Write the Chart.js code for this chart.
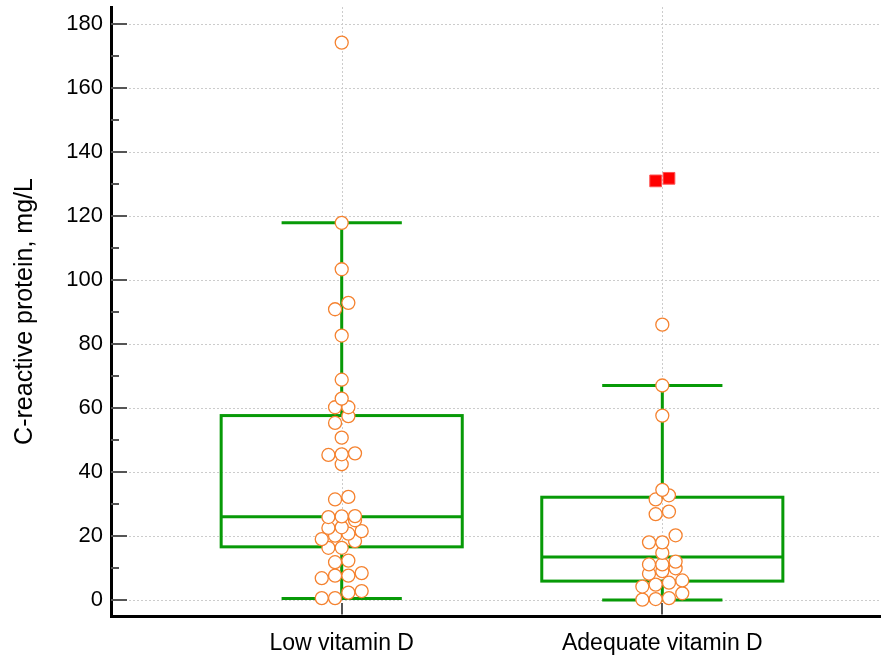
<!DOCTYPE html>
<html>
<head>
<meta charset="utf-8">
<script src="https://cdn.jsdelivr.net/npm/chart.js@4"></script>
<style>
  html, body { margin: 0; padding: 0; background: #fff; }
  #wrap { width: 881px; height: 657px; position: relative; }
</style>
</head>
<body>
<div id="wrap"><canvas id="crpChart"></canvas></div>
<script>
// Data
const categories = ['Low vitamin D', 'Adequate vitamin D'];

const lowValues = [174.2, 117.9, 103.4, 90.9, 92.9, 82.7, 68.9, 63.0, 60.3, 60.3, 57.5, 55.4,
  50.8, 45.4, 45.6, 45.9, 42.5, 31.5, 32.3, 26.0, 26.2, 26.3, 25.0, 22.6, 22.8, 20.8, 21.6,
  20.2, 19.1, 18.5, 16.4, 16.4, 11.9, 12.4, 6.9, 7.7, 7.7, 8.5, 0.7, 0.7, 2.4, 2.9];

const adequateValues = [86.1, 67.1, 57.7, 34.5, 31.5, 32.8, 26.9, 27.7, 18.1, 18.1, 20.3, 14.8,
  11.2, 11.2, 12.1, 8.3, 9.1, 10.0, 4.3, 4.9, 5.5, 6.2, 0.2, 0.4, 0.7, 2.2];

const adequateOutliers = [131.0, 131.8];

// Box plot statistics per category
const q1 = [16.7, 6.0];
const medians = [26.1, 13.5];
const q3 = [57.7, 32.2];
const whiskerLow = [0.6, 0.1];
const whiskerHigh = [117.9, 67.1];

const yTicks = [0, 20, 40, 60, 80, 100, 120, 140, 160, 180];
const yMinorTicks = [10, 30, 50, 70, 90, 110, 130, 150, 170];

// Look
const GREEN = '#079a07';
const ORANGE = '#f5822f';
const BOX_HALF = 0.376;
const CAP_HALF = 0.1875;
const SWARM_STEP = 0.0415;
const ROW_SPAN = 2.55;

// Simple dot-plot layout: values close together share a row, centred on the category
function swarm(values, center) {
  const sorted = values.slice().sort((a, b) => a - b);
  const rows = [];
  let row = [];
  sorted.forEach(v => {
    if (row.length && v - row[0] > ROW_SPAN) {
      rows.push(row);
      row = [];
    }
    row.push(v);
  });
  if (row.length) rows.push(row);

  const points = [];
  rows.forEach(r => {
    r.forEach((v, i) => {
      points.push({ x: center + (i - (r.length - 1) / 2) * SWARM_STEP, y: v });
    });
  });
  return points;
}

// No extra room for edge labels, the plot area is fixed
function noEdgePadding(scale) {
  scale.paddingTop = 0;
  scale.paddingBottom = 0;
  scale.paddingLeft = 0;
  scale.paddingRight = 0;
}

// Gridlines, boxes and whiskers drawn under the points
const boxPlugin = {
  id: 'boxPlugin',
  beforeDatasetsDraw(chart) {
    const { ctx, chartArea, scales: { x, y } } = chart;
    ctx.save();

    ctx.strokeStyle = '#cccccc';
    ctx.lineWidth = 1;
    ctx.setLineDash([2, 2]);
    yTicks.forEach(v => {
      const py = Math.round(y.getPixelForValue(v)) + 0.5;
      ctx.beginPath();
      ctx.moveTo(chartArea.left + 2, py);
      ctx.lineTo(chartArea.right, py);
      ctx.stroke();
    });
    categories.forEach((c, i) => {
      const px = Math.round(x.getPixelForValue(i)) + 0.5;
      ctx.beginPath();
      ctx.moveTo(px, chartArea.top);
      ctx.lineTo(px, chartArea.bottom - 2);
      ctx.stroke();
    });
    ctx.setLineDash([]);

    ctx.strokeStyle = GREEN;
    ctx.lineWidth = 3;
    categories.forEach((c, i) => {
      const left = x.getPixelForValue(i - BOX_HALF);
      const right = x.getPixelForValue(i + BOX_HALF);
      const mid = x.getPixelForValue(i);
      const capL = x.getPixelForValue(i - CAP_HALF);
      const capR = x.getPixelForValue(i + CAP_HALF);
      const yq1 = y.getPixelForValue(q1[i]);
      const yq3 = y.getPixelForValue(q3[i]);
      const ymed = y.getPixelForValue(medians[i]);
      const ylo = y.getPixelForValue(whiskerLow[i]);
      const yhi = y.getPixelForValue(whiskerHigh[i]);

      ctx.strokeRect(left, yq3, right - left, yq1 - yq3);
      ctx.beginPath();
      ctx.moveTo(left, ymed); ctx.lineTo(right, ymed);
      ctx.moveTo(mid, yq3); ctx.lineTo(mid, yhi);
      ctx.moveTo(capL, yhi); ctx.lineTo(capR, yhi);
      ctx.moveTo(mid, yq1); ctx.lineTo(mid, ylo);
      ctx.moveTo(capL, ylo); ctx.lineTo(capR, ylo);
      ctx.stroke();
    });
    ctx.restore();
  },
  // Inward tick marks
  afterDraw(chart) {
    const { ctx, chartArea, scales: { x, y } } = chart;
    ctx.save();
    ctx.strokeStyle = '#555555';
    ctx.lineWidth = 2;
    ctx.beginPath();
    yTicks.forEach(v => {
      const py = Math.round(y.getPixelForValue(v));
      ctx.moveTo(chartArea.left, py);
      ctx.lineTo(chartArea.left + 16, py);
    });
    yMinorTicks.forEach(v => {
      const py = Math.round(y.getPixelForValue(v));
      ctx.moveTo(chartArea.left, py);
      ctx.lineTo(chartArea.left + 8, py);
    });
    categories.forEach((c, i) => {
      const px = Math.round(x.getPixelForValue(i));
      ctx.moveTo(px, chartArea.bottom - 1.5);
      ctx.lineTo(px, chartArea.bottom - 13);
    });
    ctx.stroke();
    ctx.restore();
  }
};

function initCrpChart() {
  const ctx = document.getElementById('crpChart');
  if (!ctx) return;

  Chart.defaults.font.family = 'Arial, "Liberation Sans", sans-serif';
  Chart.defaults.color = '#000';

  const pointStyle = {
    type: 'scatter',
    pointRadius: 6.5,
    pointHoverRadius: 6.5,
    pointBorderWidth: 1.3,
    pointBorderColor: ORANGE,
    pointBackgroundColor: '#ffffff'
  };

  new Chart(ctx, {
    type: 'scatter',
    data: {
      datasets: [
        Object.assign({ label: categories[0], data: swarm(lowValues, 0) }, pointStyle),
        Object.assign({ label: categories[1], data: swarm(adequateValues, 1) }, pointStyle),
        {
          type: 'scatter',
          label: 'Outliers',
          data: swarm(adequateOutliers, 1),
          pointStyle: 'rect',
          pointRadius: 8.3,
          pointHoverRadius: 8.3,
          pointBorderWidth: 1,
          pointBorderColor: '#ff5050',
          pointBackgroundColor: '#ff0000'
        }
      ]
    },
    options: {
      responsive: true,
      maintainAspectRatio: false,
      animation: false,
      layout: {
        autoPadding: false,
        padding: { top: 7, right: 0, left: 0, bottom: 0 }
      },
      plugins: {
        legend: { display: false },
        tooltip: { enabled: false }
      },
      scales: {
        x: {
          type: 'linear',
          min: -0.7196,
          max: 1.6821,
          grid: { display: false },
          border: { display: true, color: '#000', width: 3 },
          afterBuildTicks: scale => {
            scale.ticks = categories.map((c, i) => ({ value: i }));
          },
          afterFit: scale => {
            scale.height = 41;
            noEdgePadding(scale);
          },
          ticks: {
            padding: 6,
            maxRotation: 0,
            font: { size: 23 },
            callback: value => categories[value]
          }
        },
        y: {
          min: -4.90,
          max: 185.31,
          grid: { display: false },
          border: { display: true, color: '#000', width: 3 },
          afterBuildTicks: scale => {
            scale.ticks = yTicks.map(v => ({ value: v }));
          },
          afterFit: scale => {
            scale.width = 111;
            noEdgePadding(scale);
          },
          ticks: {
            padding: 0,
            font: { size: 22 }
          },
          title: {
            display: true,
            text: 'C-reactive protein, mg/L',
            font: { size: 25 },
            padding: { top: 10, bottom: 0 }
          }
        }
      }
    },
    plugins: [boxPlugin]
  });
}

document.addEventListener('DOMContentLoaded', initCrpChart);
</script>
</body>
</html>
